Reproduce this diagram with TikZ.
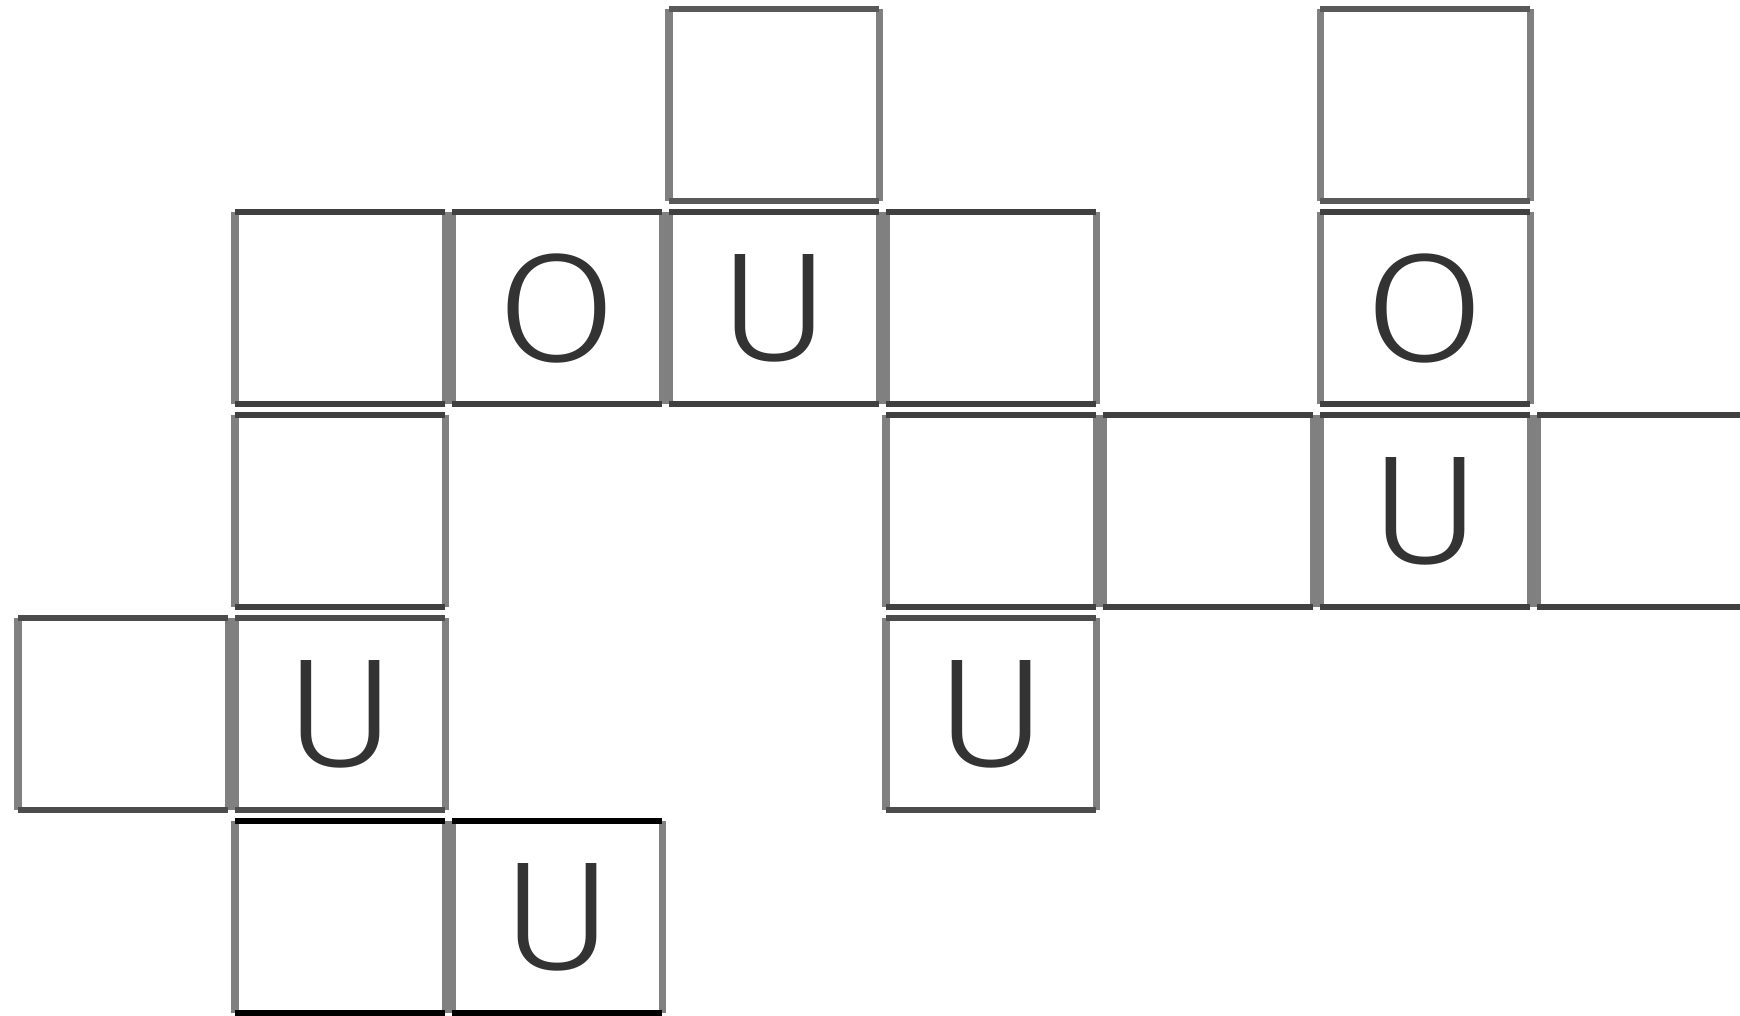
\documentclass[tikz,border=0pt]{standalone}
\usepackage{fontspec}
\setmainfont{Fira Sans Light}[FakeStretch=1.13]
\usetikzlibrary{positioning}
\colorlet{cellside}{black!50}
\colorlet{celledge0}{black!65}
\colorlet{celledge1}{black!75}
\colorlet{celledge2}{black!75}
\colorlet{celledge3}{black!70}
\colorlet{celledge4}{black}
\colorlet{cellfont}{black!80}
\tikzset{cell/.style={minimum width=2.1cm,minimum height=1.92cm,
  inner sep=0pt,outer sep=0pt,anchor=north west,font=\fontsize{44}{44}\selectfont,text=cellfont}}

\begin{document}
\begin{tikzpicture}[x=0.01cm,y=-0.01cm]
\useasboundingbox (0,0) rectangle (1740,1016);
% grid: column pitch 217, row pitch 203
\foreach \c/\r/\t in {3/0/{},6/0/{},1/1/{},2/1/O,3/1/U,4/1/{},6/1/O,1/2/{},4/2/{},5/2/{},6/2/U,7/2/{},0/3/{},1/3/U,4/3/U,1/4/{},2/4/U}{
  \node[cell] (c\c\r) at ({18+217*\c},{9+203*\r}) {\t};
  \draw[cellside,line width=2pt] (c\c\r.north west) -- (c\c\r.south west) (c\c\r.north east) -- (c\c\r.south east);
  \draw[celledge\r,line width=1.6pt] (c\c\r.north west) -- (c\c\r.north east) (c\c\r.south west) -- (c\c\r.south east);
}
\end{tikzpicture}
\end{document}
